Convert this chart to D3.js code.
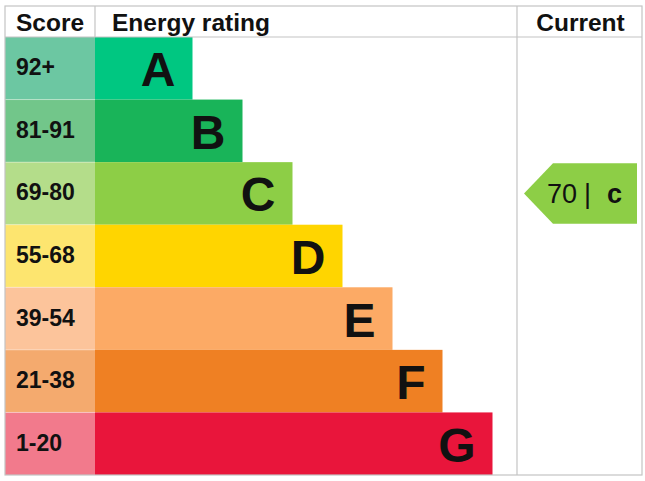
<!DOCTYPE html>
<html><head><meta charset="utf-8">
<script src="https://cdn.jsdelivr.net/npm/d3@7"></script>
<style>body{margin:0;background:#fff}svg{display:block}text{font-family:"Liberation Sans",Arial,sans-serif}</style>
</head><body>
<script>
const bands = ["A","B","C","D","E","F","G"];
const scoreRanges = ["92+","81-91","69-80","55-68","39-54","21-38","1-20"];
const barLengths = [2,3,4,5,6,7,8];
const barColors = ["#00c781","#19b459","#8dce46","#ffd500","#fcaa65","#ef8023","#e9153b"];
const scoreColors = ["#6cc7a2","#72c68a","#b4dd8a","#fde56f","#fcc49b","#f4aa6e","#f27a8c"];
const headers = ["Score","Energy rating","Current"];
const currentScore = 70;
const currentBand = "C";

(function(){
const W=645,H=481;
const svg=d3.select("body").append("svg").attr("width",W).attr("height",H);
const gLeft=5,gRight=642,gTop=6,headerBottom=37,gBottom=475;
const col1=95,col2=517;
const y=d3.scaleBand().domain(bands).range([headerBottom,gBottom]).padding(0);
const x=d3.scaleLinear().domain([0,8]).range([92.5,492.5]);

svg.selectAll("rect.score").data(bands).join("rect").attr("class","score")
  .attr("x",gLeft).attr("y",d=>y(d)).attr("width",col1-gLeft).attr("height",y.bandwidth())
  .attr("fill",(d,i)=>scoreColors[i]);
svg.selectAll("rect.bar").data(bands).join("rect").attr("class","bar")
  .attr("x",col1).attr("y",d=>y(d)).attr("width",(d,i)=>x(barLengths[i])-col1).attr("height",y.bandwidth())
  .attr("fill",(d,i)=>barColors[i]);
svg.selectAll("line.sep").data(bands.slice(1)).join("line").attr("class","sep")
  .attr("x1",gLeft).attr("x2",col1).attr("y1",d=>y(d)).attr("y2",d=>y(d))
  .attr("stroke","#ffffff").attr("stroke-opacity",0.35).attr("stroke-width",1);
svg.selectAll("text.score").data(bands).join("text").attr("class","score")
  .attr("x",16).attr("y",d=>y(d)+y.bandwidth()/2+7)
  .attr("font-size",23).attr("font-weight","bold").attr("fill","#111")
  .text((d,i)=>scoreRanges[i]);
svg.selectAll("text.letter").data(bands).join("text").attr("class","letter")
  .attr("x",(d,i)=>x(barLengths[i])-17).attr("y",d=>y(d)+y.bandwidth()/2+18)
  .attr("text-anchor","end").attr("font-size",48).attr("font-weight","bold").attr("fill","#111")
  .text(d=>d);

const g=svg.append("g").attr("stroke","#c4c4c4").attr("stroke-width",1.2).attr("fill","none");
g.append("rect").attr("x",gLeft).attr("y",gTop).attr("width",gRight-gLeft).attr("height",gBottom-gTop);
g.append("line").attr("x1",gLeft).attr("x2",gRight).attr("y1",headerBottom).attr("y2",headerBottom);
g.append("line").attr("x1",col1).attr("x2",col1).attr("y1",gTop).attr("y2",headerBottom);
g.append("line").attr("x1",col2).attr("x2",col2).attr("y1",gTop).attr("y2",gBottom);

const hx=[16,112,(col2+gRight)/2+1];
const ha=["start","start","middle"];
svg.selectAll("text.h").data(headers).join("text").attr("class","h")
  .attr("x",(d,i)=>hx[i]).attr("y",31).attr("text-anchor",(d,i)=>ha[i])
  .attr("font-size",24.5).attr("font-weight","bold").attr("fill","#111").text(d=>d);

const ci=bands.indexOf(currentBand);
const cy0=y(currentBand)+1, cy1=y(currentBand)+y.bandwidth()-1, cm=(cy0+cy1)/2;
const ax0=524, ax1=553, ax2=637;
svg.append("path")
  .attr("d",d3.line()([[ax0,cm],[ax1,cy0],[ax2,cy0],[ax2,cy1],[ax1,cy1]])+"Z")
  .attr("fill",barColors[ci]);
const t=svg.append("text").attr("y",cm+10).attr("font-size",27).attr("fill","#111");
t.append("tspan").attr("x",547).text(currentScore);
t.append("tspan").attr("x",584).text("|");
t.append("tspan").attr("x",607).attr("font-weight","bold").text(currentBand.toLowerCase());
})();
</script>
</body></html>
